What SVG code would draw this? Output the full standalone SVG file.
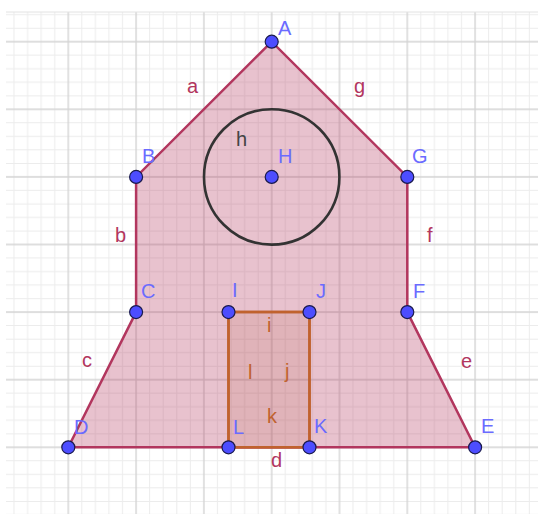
<svg xmlns="http://www.w3.org/2000/svg" width="538" height="514" viewBox="0 0 538 514">
<style>
.pt{fill:#4d4dff;stroke:#1a1a4d;stroke-width:1.2}
.pl{font-family:"Liberation Sans","DejaVu Sans",sans-serif;font-size:20px;fill:#6b6bff}
.sl{font-family:"Liberation Sans","DejaVu Sans",sans-serif;font-size:20px;fill:#b2365e}
.rl{font-family:"Liberation Sans","DejaVu Sans",sans-serif;font-size:20px;fill:#c0622e}
.seg{stroke:#b2365e;stroke-width:2.5;fill:none;stroke-linecap:round}
</style>
<defs>
<pattern id="grid" patternUnits="userSpaceOnUse" x="34.4" y="7.9" width="67.8" height="67.6">
<path d="M6.78 0V67.6M20.34 0V67.6M47.46 0V67.6M61.02 0V67.6M0 6.76H67.8M0 20.28H67.8M0 47.32H67.8M0 60.84H67.8" stroke="#ececec" stroke-width="1"/>
<path d="M33.9 0V67.6M0 33.8H67.8" stroke="#d4d4d4" stroke-width="1.4"/>
</pattern>
</defs>
<rect width="538" height="514" fill="#ffffff"/>
<rect x="6" y="12" width="532" height="502" fill="url(#grid)"/>
<line x1="6" y1="12" x2="538" y2="12" stroke="#e2e2e2" stroke-width="1"/>
<g id="polygon">
<polygon points="271.7,41.7 136.1,176.9 136.1,312.1 68.3,447.3 475.1,447.3 407.3,312.1 407.3,176.9" fill="#b2365e" fill-opacity="0.3" stroke="none"/>
</g>
<g id="rectangle">
<polygon points="228.5,312.1 309.5,312.1 309.5,447.3 228.5,447.3" fill="#993300" fill-opacity="0.1" stroke="#c0622e" stroke-width="2.5"/>
</g>
<g id="connectors">
<path class="seg" d="M271.7 41.7L136.1 176.9L136.1 312.1L68.3 447.3L475.1 447.3L407.3 312.1L407.3 176.9Z"/>
<path d="M228.5 312.1H309.5V447.3H228.5Z" fill="none" stroke="#c0622e" stroke-width="2.5"/>
</g>
<g id="circle-h">
<circle cx="271.7" cy="176.9" r="67.7" fill="none" stroke="#333333" stroke-width="2.6"/>
<text x="236" y="146" font-family="Liberation Sans, DejaVu Sans, sans-serif" font-size="20" fill="#444444">h</text>
</g>
<g id="segment-labels">
<text class="sl" x="187" y="93">a</text>
<text class="sl" x="354" y="93">g</text>
<text class="sl" x="115" y="242">b</text>
<text class="sl" x="427" y="242">f</text>
<text class="sl" x="82" y="367">c</text>
<text class="sl" x="461" y="368">e</text>
<text class="sl" x="271" y="467">d</text>
<text class="rl" x="267" y="332">i</text>
<text class="rl" x="248" y="379">l</text>
<text class="rl" x="285" y="378">j</text>
<text class="rl" x="267" y="423">k</text>
</g>
<g id="A"><circle class="pt" cx="271.7" cy="41.7" r="6.5"/><text class="pl" x="278" y="35">A</text></g>
<g id="B"><circle class="pt" cx="136.1" cy="176.9" r="6.5"/><text class="pl" x="142" y="163">B</text></g>
<g id="G"><circle class="pt" cx="407.3" cy="176.9" r="6.5"/><text class="pl" x="412" y="163">G</text></g>
<g id="H"><circle class="pt" cx="271.7" cy="176.9" r="6.5"/><text class="pl" x="278" y="163">H</text></g>
<g id="C"><circle class="pt" cx="136.1" cy="312.1" r="6.5"/><text class="pl" x="141" y="298">C</text></g>
<g id="F"><circle class="pt" cx="407.3" cy="312.1" r="6.5"/><text class="pl" x="413" y="298">F</text></g>
<g id="I"><circle class="pt" cx="228.5" cy="312.1" r="6.5"/><text class="pl" x="232" y="297">I</text></g>
<g id="J"><circle class="pt" cx="309.5" cy="312.1" r="6.5"/><text class="pl" x="316" y="298">J</text></g>
<g id="D"><circle class="pt" cx="68.3" cy="447.3" r="6.5"/><text class="pl" x="74" y="434">D</text></g>
<g id="L"><circle class="pt" cx="228.5" cy="447.3" r="6.5"/><text class="pl" x="233" y="434">L</text></g>
<g id="K"><circle class="pt" cx="309.5" cy="447.3" r="6.5"/><text class="pl" x="314" y="433">K</text></g>
<g id="E"><circle class="pt" cx="475.1" cy="447.3" r="6.5"/><text class="pl" x="481" y="433">E</text></g>
</svg>
